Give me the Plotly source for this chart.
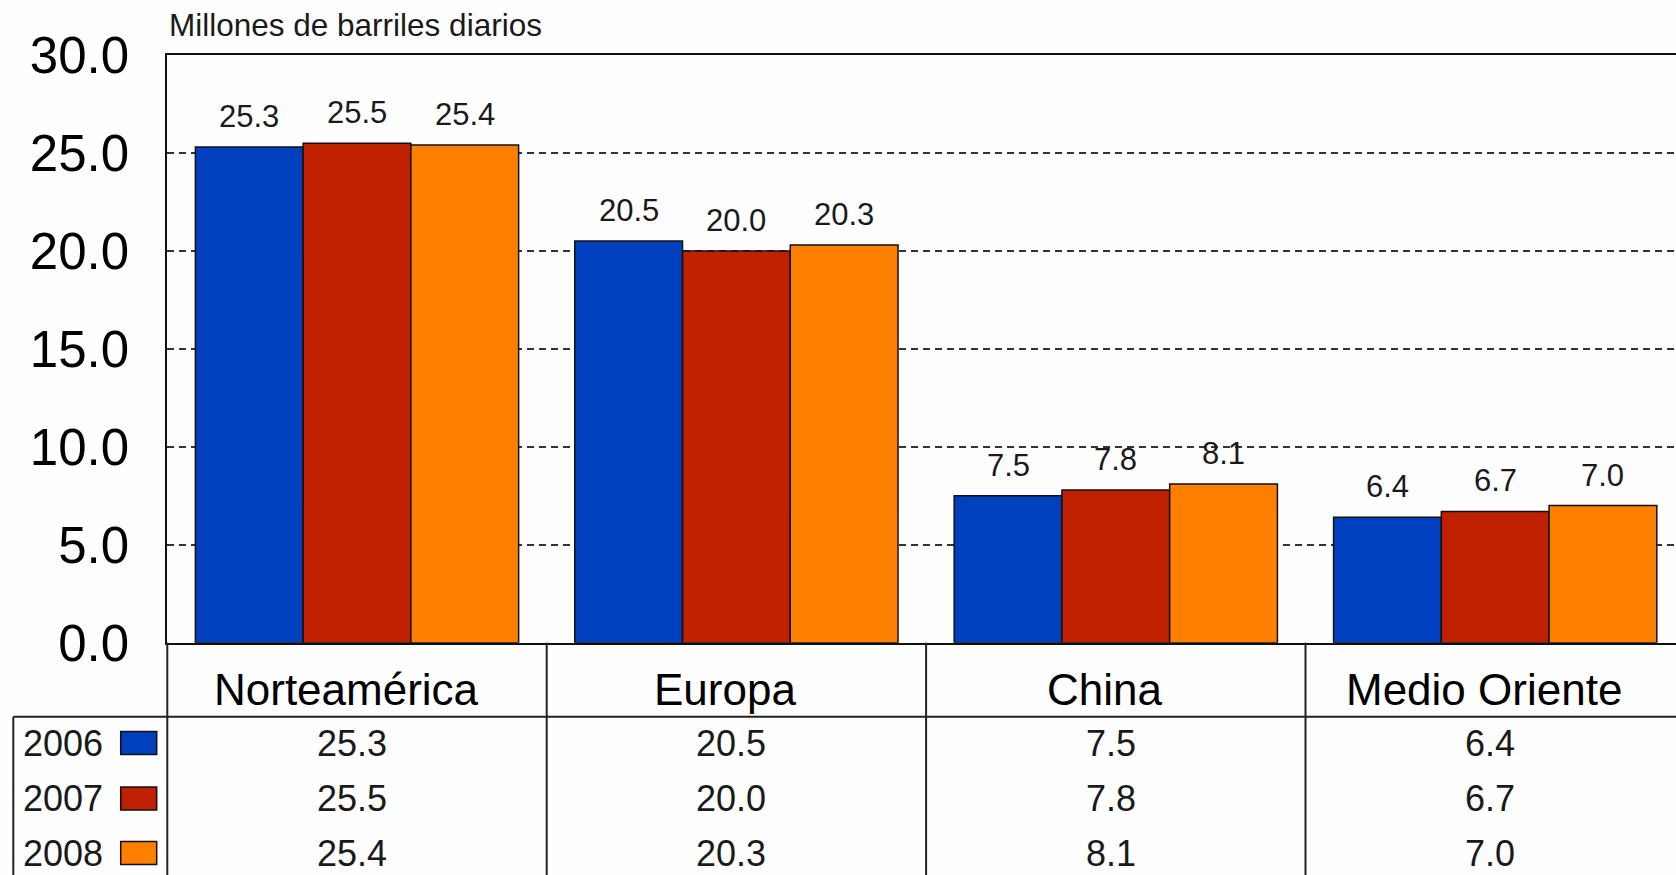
import plotly.graph_objects as go

# Data: oil consumption by region (million barrels per day)
regions = ["Norteamérica", "Europa", "China", "Medio Oriente"]
years = ["2006", "2007", "2008"]
v2006 = [25.3, 20.5, 7.5, 6.4]
v2007 = [25.5, 20.0, 7.8, 6.7]
v2008 = [25.4, 20.3, 8.1, 7.0]
series = [v2006, v2007, v2008]
colors = ["#0040BF", "#BE2000", "#FF8000"]
y_ticks = [0, 5, 10, 15, 20, 25, 30]

W, H = 1676, 875
FONT = "Liberation Sans, Arial, sans-serif"


def px(x):
    return x / W


def py(y):
    return 1 - y / H


# plot frame (pixels)
LEFT, TOP, BASE = 167.3, 55.0, 642.7
CAT_ROW_BOTTOM = 716.7
ROW_Y = [743.0, 798.5, 853.0]
CAT_W = 379.4
x_span = (W - LEFT) / CAT_W

BARGAP = 0.148
bw = (1 - BARGAP) / len(series)

fig = go.Figure()
for name, vals, col in zip(years, series, colors):
    fig.add_trace(go.Bar(
        x=list(range(len(regions))), y=vals, name=name,
        marker=dict(color=col, line=dict(color="#111111", width=1.5)),
        showlegend=False,
    ))

annotations = []

# value labels above bars
for j, vals in enumerate(series):
    for i, v in enumerate(vals):
        annotations.append(dict(
            x=i + (j - 1) * bw, y=v, xref="x", yref="y",
            text=f"{v:.1f}", showarrow=False, yanchor="bottom", yshift=11,
            font=dict(family=FONT, size=31, color="#1a1a1a"),
        ))

# unit title
annotations.append(dict(
    x=px(LEFT), y=py(25), xref="paper", yref="paper", xanchor="left", yanchor="middle",
    text="Millones de barriles diarios", showarrow=False,
    font=dict(family=FONT, size=31.5, color="#1a1a1a"),
))

# category header row of the data table
for i, r in enumerate(regions):
    annotations.append(dict(
        x=i, y=py(689), xref="x", yref="paper", yanchor="middle", xshift=-11,
        text=r, showarrow=False, font=dict(family=FONT, size=44, color="#000000"),
    ))

# data rows with legend keys
shapes = []
for j, (name, vals, col) in enumerate(zip(years, series, colors)):
    ry = ROW_Y[j]
    annotations.append(dict(
        x=px(21), y=py(ry), xref="paper", yref="paper", xanchor="left", yanchor="middle",
        text=name, showarrow=False, font=dict(family=FONT, size=36, color="#1a1a1a"),
    ))
    shapes.append(dict(
        type="rect", xref="paper", yref="paper",
        x0=px(120.7), x1=px(156.7), y0=py(ry - 11.5), y1=py(ry + 11.5),
        fillcolor=col, line=dict(color="#111111", width=1.5),
    ))
    for i, v in enumerate(vals):
        annotations.append(dict(
            x=i, y=py(ry), xref="x", yref="paper", yanchor="middle", xshift=-5,
            text=f"{v:.1f}", showarrow=False, font=dict(family=FONT, size=36, color="#1a1a1a"),
        ))

LINE = dict(color="#222222", width=2)
# table grid
shapes.append(dict(type="line", xref="paper", yref="paper",
                   x0=px(13.3), x1=1, y0=py(CAT_ROW_BOTTOM), y1=py(CAT_ROW_BOTTOM), line=LINE))
shapes.append(dict(type="line", xref="paper", yref="paper",
                   x0=px(13.3), x1=px(13.3), y0=py(CAT_ROW_BOTTOM), y1=py(H + 5), line=LINE))
shapes.append(dict(type="line", xref="paper", yref="paper",
                   x0=px(LEFT), x1=px(LEFT), y0=py(BASE), y1=py(H + 5), line=LINE))
for i in range(len(regions) - 1):
    shapes.append(dict(type="line", xref="x", yref="paper",
                       x0=i + 0.5, x1=i + 0.5, y0=py(BASE), y1=py(H + 5), line=LINE))

fig.update_layout(
    width=W, height=H,
    margin=dict(l=0, r=0, t=0, b=0, autoexpand=False),
    paper_bgcolor="#fefefe", plot_bgcolor="#fefefe",
    barmode="group", bargap=BARGAP, bargroupgap=0,
    annotations=annotations, shapes=shapes,
    xaxis=dict(
        domain=[px(LEFT), 1], range=[-0.5, -0.5 + x_span], automargin=False,
        showticklabels=False, ticks="", showgrid=False, zeroline=False,
        showline=True, linecolor="#111111", linewidth=2, mirror=True,
    ),
    yaxis=dict(
        domain=[py(BASE), py(TOP)], range=[0, 30], automargin=False,
        tickvals=y_ticks, tickformat=".1f", ticks="",
        tickfont=dict(family=FONT, size=51, color="#000000"),
        ticklabelstandoff=26,
        showgrid=True, gridcolor="#333333", gridwidth=2, griddash="7px,5px",
        zeroline=False, showline=True, linecolor="#111111", linewidth=2,
    ),
)

fig.write_html("out.html")
